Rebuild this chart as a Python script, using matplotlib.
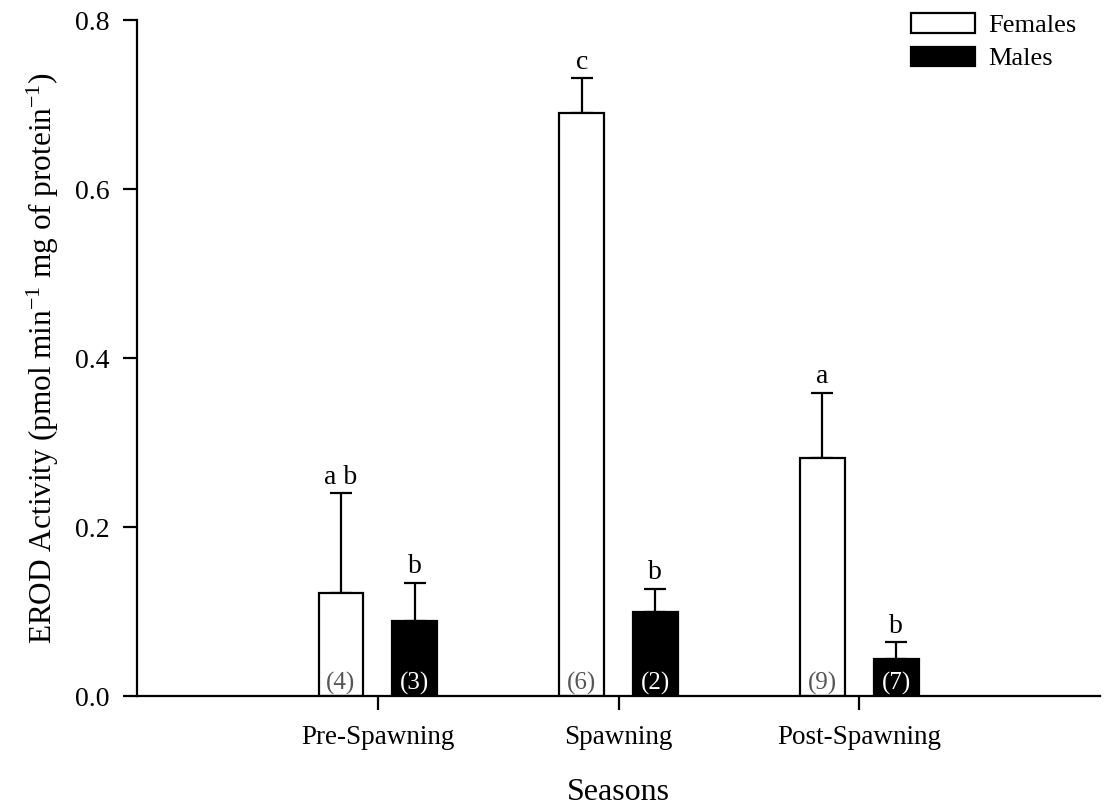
import matplotlib
matplotlib.use("Agg")
import matplotlib.pyplot as plt
import numpy as np

plt.rcParams["font.family"] = ["Liberation Serif", "DejaVu Serif"]
plt.rcParams["mathtext.fontset"] = "custom"
plt.rcParams["mathtext.rm"] = "Liberation Serif"
plt.rcParams["mathtext.default"] = "regular"

# EROD activity by season and sex (mean + SE), sample sizes and letter groups
seasons = ["Pre-Spawning", "Spawning", "Post-Spawning"]
females_mean = [0.122, 0.690, 0.282]
females_se = [0.118, 0.041, 0.077]
males_mean = [0.089, 0.100, 0.044]
males_se = [0.045, 0.027, 0.020]
females_n = ["(4)", "(6)", "(9)"]
males_n = ["(3)", "(2)", "(7)"]
females_letters = ["a b", "c", "a"]
males_letters = ["b", "b", "b"]

x = np.arange(1, len(seasons) + 1)
width = 0.186
offset = 0.153

fig = plt.figure(figsize=(11.06, 8.07), dpi=100)
ax = fig.add_axes([0.1239, 0.1375, 0.8707, 0.8377])

lw = 1.6
ax.bar(x - offset, females_mean, width, color="white", edgecolor="black",
       linewidth=lw, label="Females", zorder=2)
ax.bar(x + offset, males_mean, width, color="black", edgecolor="black",
       linewidth=lw, label="Males", zorder=2)

err_kw = dict(fmt="none", ecolor="black", elinewidth=lw, capsize=8,
              capthick=lw, zorder=1)
ax.errorbar(x - offset, females_mean,
            yerr=[np.zeros(len(x)), females_se], **err_kw)
ax.errorbar(x + offset, males_mean,
            yerr=[np.zeros(len(x)), males_se], **err_kw)

# letters above the caps, sample sizes inside the bars
for xi, m, s, lab in zip(x - offset, females_mean, females_se, females_letters):
    ax.text(xi, m + s + 0.004, lab, ha="center", va="bottom", fontsize=20)
for xi, m, s, lab in zip(x + offset, males_mean, males_se, males_letters):
    ax.text(xi, m + s + 0.004, lab, ha="center", va="bottom", fontsize=20)
for xi, n in zip(x - offset, females_n):
    ax.text(xi, 0.001, n, ha="center", va="bottom", fontsize=18,
            color="#555555", zorder=3)
for xi, n in zip(x + offset, males_n):
    ax.text(xi, 0.001, n, ha="center", va="bottom", fontsize=18,
            color="white", zorder=3)

ax.set_xlim(0, 4)
ax.set_ylim(0, 0.8)
ax.set_xticks(x)
ax.set_xticklabels(seasons, fontsize=19.5)
ax.set_yticks(np.arange(0, 0.81, 0.2))
ax.set_yticklabels([f"{v:.1f}" for v in np.arange(0, 0.81, 0.2)], fontsize=20)
ax.tick_params(axis="both", direction="out", length=10, width=lw, pad=10)
ax.tick_params(axis="x", pad=11)

for side in ["top", "right"]:
    ax.spines[side].set_visible(False)
for side in ["left", "bottom"]:
    ax.spines[side].set_linewidth(lw)

ax.set_xlabel("Seasons", fontsize=23, labelpad=20)
ax.set_ylabel("EROD Activity (pmol min$^{-1}$ mg of protein$^{-1}$)",
              fontsize=22.5, labelpad=10)

ax.legend(loc="upper right", bbox_to_anchor=(1.0, 1.045), frameon=False,
          fontsize=19, handlelength=2.4, handleheight=0.76,
          handletextpad=0.5, labelspacing=0.35)

fig.savefig("out.png", dpi=100)
